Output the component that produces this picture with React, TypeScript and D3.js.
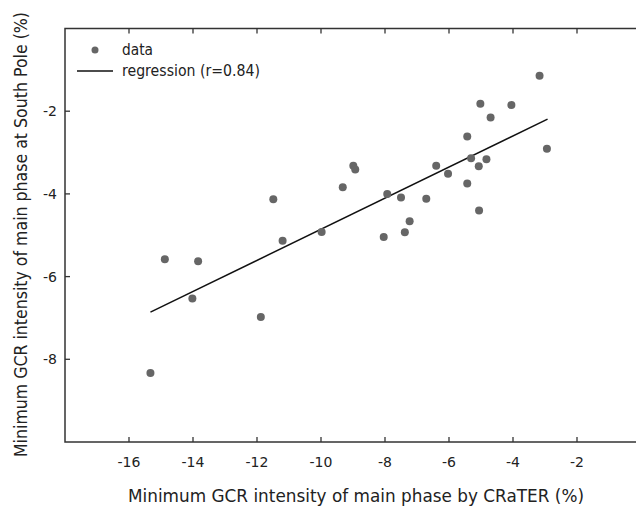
import React from "react";
import * as d3 from "d3";

const crater: number[] = [
  -15.33, -14.88, -13.84, -14.02, -11.88, -11.49, -11.2, -9.98, -9.32, -8.99,
  -8.93, -8.04, -7.93, -7.5, -7.38, -7.23, -6.71, -6.4, -6.03, -5.43,
  -5.43, -5.31, -5.07, -5.06, -5.02, -4.83, -4.7, -4.05, -3.17, -2.94,
];
const southPole: number[] = [
  -8.33, -5.58, -5.63, -6.53, -6.98, -4.13, -5.13, -4.92, -3.84, -3.32,
  -3.41, -5.04, -4.0, -4.09, -4.93, -4.66, -4.12, -3.32, -3.51, -2.61,
  -3.75, -3.14, -3.33, -4.4, -1.82, -3.16, -2.15, -1.85, -1.14, -2.91,
];
const regX: number[] = [-15.33, -2.92];
const regY: number[] = [-6.86, -2.19];
const xTicks: number[] = [-16, -14, -12, -10, -8, -6, -4, -2];
const yTicks: number[] = [-2, -4, -6, -8];
const legendLabels: string[] = ["data", "regression (r=0.84)"];
const xTitle = "Minimum GCR intensity of main phase by CRaTER (%)";
const yTitle = "Minimum GCR intensity of main phase at South Pole (%)";

const W = 636;
const H = 507;
const FONT = "'DejaVu Sans', Verdana, sans-serif";

export default function App() {
  const x = d3.scaleLinear().domain([-18, 0]).range([65, 641]);
  const y = d3.scaleLinear().domain([0, -10]).range([28.5, 442]);
  const axisColor = "#333";
  const tickLen = 5;
  const line = d3
    .line<number>()
    .x((d) => x(regX[d]))
    .y((d) => y(regY[d]));

  return (
    <svg
      width={W}
      height={H}
      style={{ position: "absolute", left: 0, top: 0, background: "#fff" }}
      fontFamily={FONT}
    >
      <rect x={0} y={0} width={W} height={H} fill="#fff" />
      {/* frame */}
      <rect
        x={x(-18)}
        y={y(0)}
        width={x(0) - x(-18)}
        height={y(-10) - y(0)}
        fill="none"
        stroke={axisColor}
        strokeWidth={1.5}
      />
      {/* x ticks */}
      {xTicks.map((t) => (
        <g key={"xt" + t}>
          <line x1={x(t)} x2={x(t)} y1={y(-10)} y2={y(-10) - tickLen} stroke={axisColor} strokeWidth={1.3} />
          <line x1={x(t)} x2={x(t)} y1={y(0)} y2={y(0) + tickLen} stroke={axisColor} strokeWidth={1.3} />
          <text x={x(t)} y={y(-10) + 25} textAnchor="middle" fontSize={14} fill="#222">
            {t}
          </text>
        </g>
      ))}
      {/* y ticks */}
      {yTicks.map((t) => (
        <g key={"yt" + t}>
          <line x1={x(-18)} x2={x(-18) + tickLen} y1={y(t)} y2={y(t)} stroke={axisColor} strokeWidth={1.3} />
          <line x1={x(0)} x2={x(0) - tickLen} y1={y(t)} y2={y(t)} stroke={axisColor} strokeWidth={1.3} />
          <text x={x(-18) - 8} y={y(t)} dy="0.35em" textAnchor="end" fontSize={14} fill="#222">
            {t}
          </text>
        </g>
      ))}
      {/* regression */}
      <path d={line([0, 1]) || ""} fill="none" stroke="#111" strokeWidth={1.5} />
      {/* points */}
      {crater.map((cx, i) => (
        <circle key={"p" + i} cx={x(cx)} cy={y(southPole[i])} r={4} fill="#666" />
      ))}
      {/* legend */}
      <circle cx={95} cy={50} r={3.5} fill="#666" />
      <text x={122} y={50} dy="0.35em" fontSize={15} fill="#222" textLength={31} lengthAdjust="spacingAndGlyphs">
        {legendLabels[0]}
      </text>
      <line x1={77} x2={113} y1={71} y2={71} stroke="#111" strokeWidth={1.3} />
      <text x={122} y={71} dy="0.35em" fontSize={15} fill="#222" textLength={138} lengthAdjust="spacingAndGlyphs">
        {legendLabels[1]}
      </text>
      {/* axis titles */}
      <text
        x={356}
        y={502}
        textAnchor="middle"
        fontSize={18}
        fill="#222"
        textLength={456}
        lengthAdjust="spacingAndGlyphs"
      >
        {xTitle}
      </text>
      <text
        transform={`translate(26.5, 234.5) rotate(-90)`}
        textAnchor="middle"
        fontSize={18}
        fill="#222"
        textLength={445}
        lengthAdjust="spacingAndGlyphs"
      >
        {yTitle}
      </text>
    </svg>
  );
}
